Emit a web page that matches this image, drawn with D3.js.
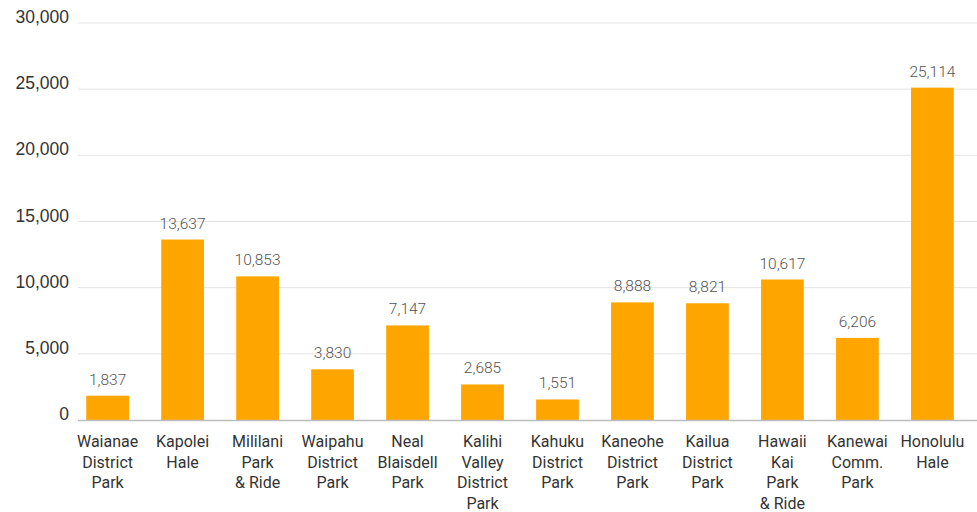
<!DOCTYPE html>
<html><head><meta charset="utf-8">
<script src="https://cdn.jsdelivr.net/npm/d3@7"></script>
<style>body{margin:0;background:#fff}svg{display:block}</style>
</head><body><svg id="c" width="977" height="512"></svg>
<script>
const categories = [
  ["Waianae","District","Park"],
  ["Kapolei","Hale"],
  ["Mililani","Park","& Ride"],
  ["Waipahu","District","Park"],
  ["Neal","Blaisdell","Park"],
  ["Kalihi","Valley","District","Park"],
  ["Kahuku","District","Park"],
  ["Kaneohe","District","Park"],
  ["Kailua","District","Park"],
  ["Hawaii","Kai","Park","& Ride"],
  ["Kanewai","Comm.","Park"],
  ["Honolulu","Hale"]
];
const values = [1837,13637,10853,3830,7147,2685,1551,8888,8821,10617,6206,25114];
const yTicks = [0,5000,10000,15000,20000,25000,30000];

const svg = d3.select("#c");
const keys = categories.map((c,i)=>i);
const x = d3.scaleBand().domain(keys).range([54,986]).padding(0.43);
const y = d3.scaleLinear().domain([0,30000]).range([420,23]);
const fmt = d3.format(",");

// gridlines
svg.append("g").selectAll("line").data(yTicks.filter(d=>d>0)).join("line")
  .attr("x1",78).attr("x2",977).attr("y1",d=>y(d)).attr("y2",d=>y(d))
  .attr("stroke","#e3e3e3").attr("stroke-width",1);
// y labels
svg.append("g").selectAll("text").data(yTicks).join("text")
  .attr("x",69).attr("y",d=>y(d)-6).attr("dy","0.35em").attr("text-anchor","end")
  .attr("font-family","Liberation Sans, Arial, sans-serif").attr("font-size",17.5).attr("fill","#333")
  .text(d=>fmt(d));
// bars
svg.append("g").selectAll("rect").data(values).join("rect")
  .attr("x",(d,i)=>x(i)).attr("width",x.bandwidth())
  .attr("y",d=>y(d)).attr("height",d=>y(0)-y(d)).attr("fill","#FFA500");
// baseline
svg.append("line").attr("x1",78).attr("x2",977).attr("y1",y(0)+0.5).attr("y2",y(0)+0.5)
  .attr("stroke","#bdbdbd").attr("stroke-width",1.5);
// value labels
svg.append("g").selectAll("text").data(values).join("text")
  .attr("x",(d,i)=>x(i)+x.bandwidth()/2).attr("y",d=>y(d)-11)
  .attr("text-anchor","middle").attr("font-family","Roboto, sans-serif").attr("font-weight",300)
  .attr("font-size",15.5).attr("fill","#555").text(d=>fmt(d));
// category labels
const cl = svg.append("g").selectAll("text").data(categories).join("text")
  .attr("x",(d,i)=>x(i)+x.bandwidth()/2).attr("y",447)
  .attr("text-anchor","middle").attr("font-family","Roboto, sans-serif")
  .attr("font-size",16).attr("fill","#333");
cl.selectAll("tspan").data(d=>d).join("tspan")
  .attr("x",function(){return this.parentNode.getAttribute("x");})
  .attr("dy",(d,i)=>i===0?0:20.5).text(d=>d);
</script></body></html>
